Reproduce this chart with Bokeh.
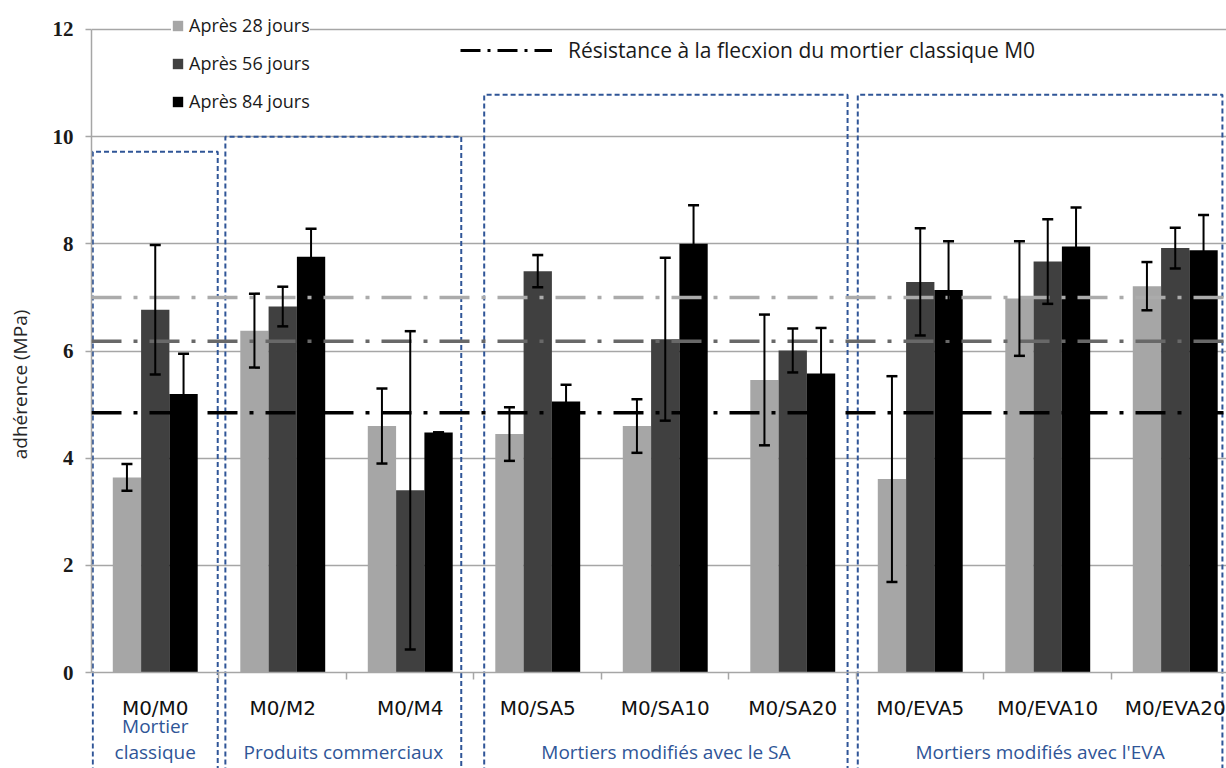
from bokeh.plotting import figure
from bokeh.models import (Range1d, FixedTicker, Whisker, ColumnDataSource, Legend,
                          LegendItem, Span, TeeHead)
from bokeh.embed import file_html
from bokeh.resources import INLINE
from bokeh.core.properties import value

# ---------------- data ----------------
categories = ["M0/M0", "M0/M2", "M0/M4", "M0/SA5", "M0/SA10", "M0/SA20",
              "M0/EVA5", "M0/EVA10", "M0/EVA20"]
series_names = ["Après 28 jours", "Après 56 jours", "Après 84 jours"]
v28 = [3.64, 6.38, 4.60, 4.45, 4.60, 5.46, 3.61, 6.98, 7.21]
e28 = [0.25, 0.69, 0.70, 0.50, 0.50, 1.22, 1.92, 1.07, 0.45]
v56 = [6.77, 6.83, 3.40, 7.49, 6.22, 6.01, 7.29, 7.67, 7.92]
e56 = [1.21, 0.37, 2.97, 0.30, 1.52, 0.41, 1.00, 0.79, 0.38]
v84 = [5.20, 7.76, 4.48, 5.06, 8.00, 5.58, 7.14, 7.95, 7.88]
e84 = [0.75, 0.52, 0.00, 0.31, 0.72, 0.85, 0.91, 0.73, 0.66]
ref_values = [7.00, 6.18, 4.85]
ref_label = "Résistance à la flecxion du mortier classique M0"
groups = [["Mortier", "classique"], ["Produits commerciaux"],
          ["Mortiers modifiés avec le SA"], ["Mortiers modifiés avec l'EVA"]]
group_sizes = [1, 2, 3, 3]
box_tops = [9.72, 10.0, 10.78, 10.78]
y_ticks = [0, 2, 4, 6, 8, 10, 12]
y_label = "adhérence (MPa)"

# ---------------- styles ----------------
bar_colors = ["#A6A6A6", "#404040", "#000000"]
ref_colors = ["#ABABAB", "#686868", "#000000"]
blue = "#2F5597"
grid_col = "#A6A6A6"
box_left_pad = [0.01, 0.05, 0.08, 0.01]
box_right_pad = [0.01, 0.10, 0.07, 0.13]
bar_w = 0.222
offsets = [-bar_w, 0.0, bar_w]
label_y_last = -1.49     # row of the group captions (data units)
label_line_step = 0.49

p = figure(width=1226, height=768, output_backend="svg", toolbar_location=None,
           x_range=Range1d(0, 8.902), y_range=Range1d(-1.791, 12.541),
           min_border_left=91, min_border_right=0, min_border_top=0, min_border_bottom=0)
p.outline_line_color = None
p.background_fill_color = "white"
p.border_fill_color = "white"

# axes
p.xgrid.visible = False
p.ygrid.ticker = FixedTicker(ticks=y_ticks[1:])
p.ygrid.grid_line_color = grid_col
p.ygrid.grid_line_width = 1.5

yax = p.yaxis[0]
yax.ticker = FixedTicker(ticks=y_ticks)
yax.bounds = (0, 12)
yax.axis_line_color = grid_col
yax.axis_line_width = 1.5
yax.major_tick_line_color = grid_col
yax.major_tick_line_width = 1.5
yax.major_tick_out = 6
yax.major_tick_in = 0
yax.minor_tick_line_color = None
yax.major_label_text_font = "Liberation Serif"
yax.major_label_text_font_style = "bold"
yax.major_label_text_font_size = "21px"
yax.major_label_text_color = "#1a1a1a"
yax.major_label_standoff = 12
yax.axis_label = y_label
yax.axis_label_text_font = "Open Sans"
yax.axis_label_text_font_style = "normal"
yax.axis_label_text_font_size = "19px"
yax.axis_label_text_color = "#262626"
yax.axis_label_standoff = 17

centers = [i + 0.5 for i in range(len(categories))]
xax = p.xaxis[0]
xax.fixed_location = 0
xax.ticker = FixedTicker(ticks=centers, minor_ticks=list(range(1, len(categories))))
xax.major_label_overrides = {c: n for c, n in zip(centers, categories)}
xax.axis_line_color = grid_col
xax.axis_line_width = 1.5
xax.major_tick_line_color = None
xax.major_tick_out = 0
xax.major_tick_in = 0
xax.minor_tick_line_color = grid_col
xax.minor_tick_line_width = 1.5
xax.minor_tick_out = 7
xax.minor_tick_in = 0
xax.major_label_text_font = "DejaVu Sans"
xax.major_label_text_font_size = "20px"
xax.major_label_text_color = "#111111"
xax.major_label_standoff = 16

# bars
values = [v28, v56, v84]
errors = [e28, e56, e84]
bar_renderers = []
sources = []
for k in range(3):
    xs = [c + offsets[k] for c in centers]
    src = ColumnDataSource(dict(
        x=xs, top=values[k],
        upper=[v + e for v, e in zip(values[k], errors[k])],
        lower=[v - e for v, e in zip(values[k], errors[k])]))
    sources.append(src)
    r = p.vbar(x="x", top="top", bottom=0, width=bar_w, source=src,
               fill_color=bar_colors[k], line_color=None)
    bar_renderers.append(r)

# reference lines
for val, col in zip(ref_values, ref_colors):
    sp = Span(location=val, dimension="width", line_color=col, line_width=3.5,
              line_dash="30 12 4 12", level="annotation")
    p.add_layout(sp)

# error bars
for src in sources:
    w = Whisker(source=src, base="x", upper="upper", lower="lower",
                line_color="black", line_width=2, level="annotation",
                upper_head=TeeHead(size=11, line_width=2.5, line_color="black"),
                lower_head=TeeHead(size=11, line_width=2.5, line_color="black"))
    p.add_layout(w)

# group boxes (dashed blue) and group captions
bx, by = [], []
tx, ty, tt = [], [], []
start = 0
for g, n in enumerate(group_sizes):
    left = start + box_left_pad[g]
    right = start + n - box_right_pad[g]
    bx.append([left, left, right, right])
    by.append([-5, box_tops[g], box_tops[g], -5])
    lines = groups[g]
    for j, line in enumerate(lines):
        tx.append((left + right) / 2)
        ty.append(label_y_last + (len(lines) - 1 - j) * label_line_step)
        tt.append(line)
    start += n
p.multi_line(xs=bx, ys=by, line_color=blue, line_width=2, line_dash="5 3")
p.text(x=tx, y=ty, text=tt, text_align="center", text_baseline="middle",
       text_font=value("Open Sans"), text_font_size="19px", text_color=blue)

# legend for bars
leg1 = Legend(items=[LegendItem(label=n, renderers=[r]) for n, r in zip(series_names, bar_renderers)],
              location=(80, 655), orientation="vertical",
              glyph_width=13, glyph_height=13, label_height=20, spacing=14,
              padding=7, label_standoff=5, label_text_font="Open Sans",
              label_text_font_size="18px", label_text_color="#1a1a1a",
              background_fill_color="white", background_fill_alpha=1.0,
              border_line_color=None, margin=0)
p.add_layout(leg1)

# legend for reference line (legend-only renderer, no data shown)
nan = float("nan")
dummy = p.line(x=[nan, nan], y=[nan, nan], line_color="black", line_width=3,
               line_dash="20 7 3 7")
leg2 = Legend(items=[LegendItem(label=ref_label, renderers=[dummy])],
              location=(369, 704), glyph_width=92, glyph_height=20, label_height=20,
              padding=5, label_standoff=16, label_text_font="Open Sans",
              label_text_font_size="21px", label_text_color="#1a1a1a",
              background_fill_alpha=0.0, border_line_color=None, margin=0)
p.add_layout(leg2)

open("out.html", "w").write(file_html(p, INLINE))
